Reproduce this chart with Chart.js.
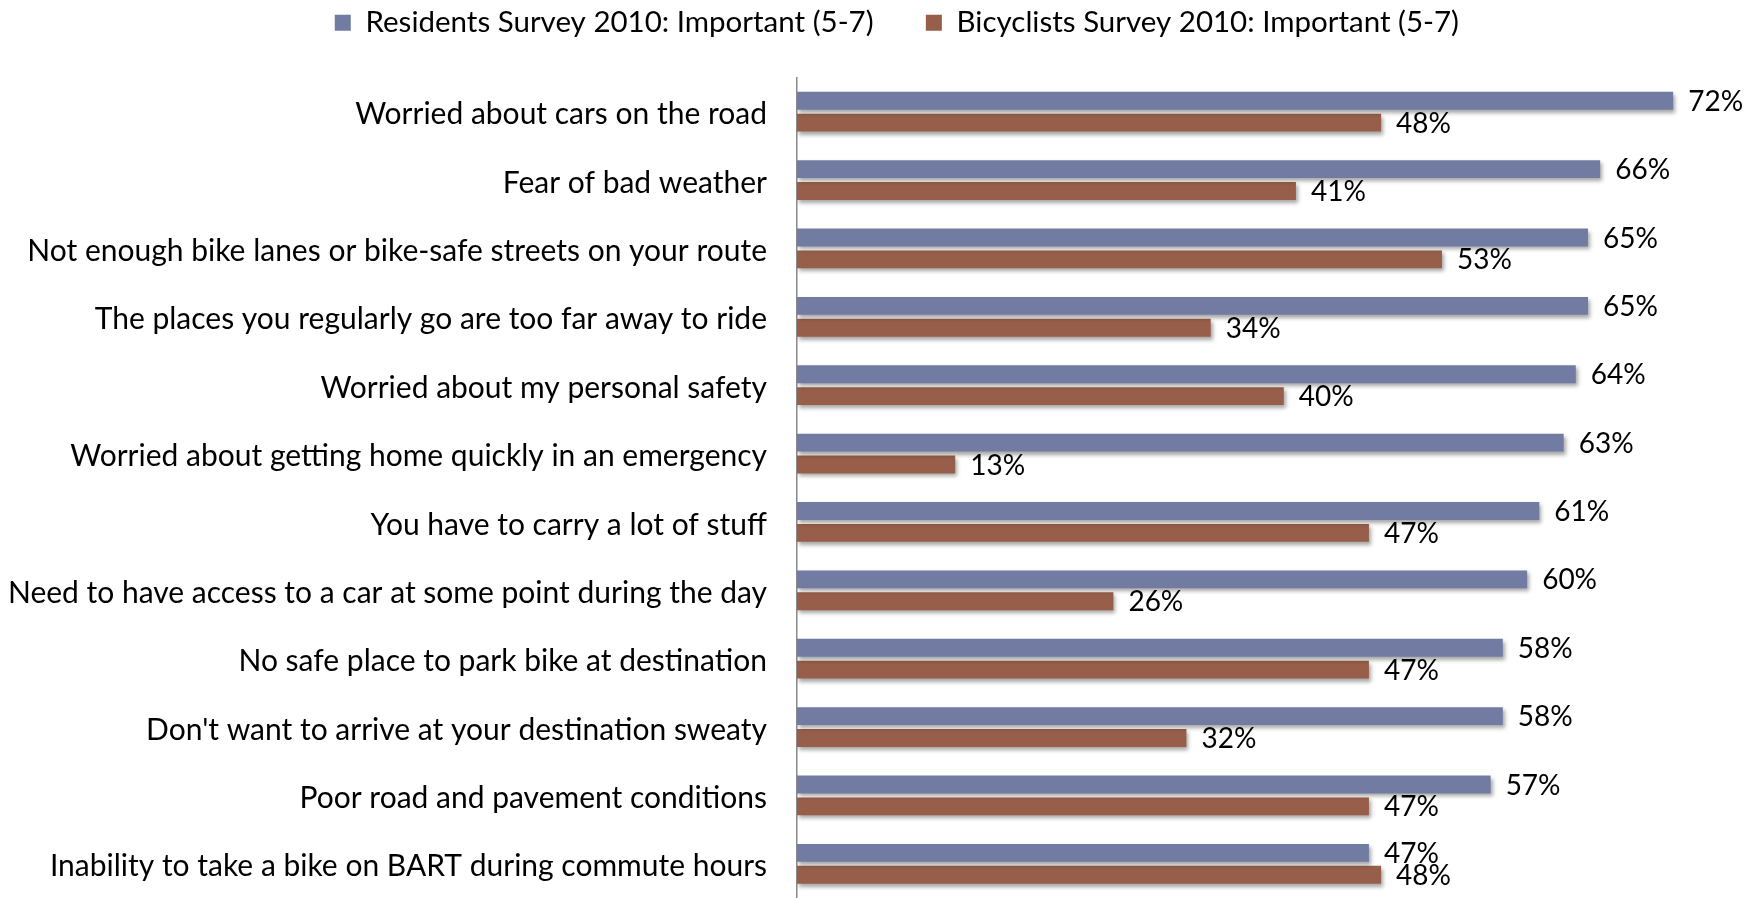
<!DOCTYPE html>
<html>
<head>
<meta charset="utf-8">
<script src="https://cdn.jsdelivr.net/npm/chart.js@4"></script>
<style>
  html, body { margin: 0; padding: 0; background: #ffffff; }
  #wrap { width: 1762px; height: 898px; position: relative; }
</style>
</head>
<body>
<div id="wrap"><canvas id="c"></canvas></div>
<script>
const categories = [
  "Worried about cars on the road",
  "Fear of bad weather",
  "Not enough bike lanes or bike-safe streets on your route",
  "The places you regularly go are too far away to ride",
  "Worried about my personal safety",
  "Worried about getting home quickly in an emergency",
  "You have to carry a lot of stuff",
  "Need to have access to a car at some point during the day",
  "No safe place to park bike at destination",
  "Don't want to arrive at your destination sweaty",
  "Poor road and pavement conditions",
  "Inability to take a bike on BART during commute hours"
];
const residents2010 = [72, 66, 65, 65, 64, 63, 61, 60, 58, 58, 57, 47];
const bicyclists2010 = [48, 41, 53, 34, 40, 13, 47, 26, 47, 32, 47, 48];
const seriesNames = [
  "Residents Survey 2010: Important (5-7)",
  "Bicyclists Survey 2010: Important (5-7)"
];

const FONT = "Lato, 'Open Sans', sans-serif";
const EM = '\u2003', QS = '\u2005';
const legendTrail = [EM + EM, EM.repeat(13) + QS];

const barEffects = {
  id: 'barEffects',
  beforeDatasetsDraw(chart) {
    const c = chart.ctx;
    c.save();
    c.shadowColor = 'rgba(0,0,0,0.35)';
    c.shadowBlur = 4;
    c.shadowOffsetX = 2;
    c.shadowOffsetY = 3;
  },
  afterDatasetsDraw(chart) {
    const c = chart.ctx;
    c.restore();
    c.save();
    c.font = '28px ' + FONT;
    c.fillStyle = '#000000';
    c.textAlign = 'left';
    c.textBaseline = 'middle';
    chart.data.datasets.forEach((ds, di) => {
      const meta = chart.getDatasetMeta(di);
      meta.data.forEach((bar, i) => {
        c.fillText(ds.data[i] + '%', bar.x + 15, bar.y + 1);
      });
    });
    c.restore();
  }
};

new Chart(document.getElementById('c'), {
  type: 'bar',
  data: {
    labels: categories,
    datasets: [
      {
        label: seriesNames[0],
        data: residents2010,
        backgroundColor: '#727ca3',
        categoryPercentage: 0.64,
        barPercentage: 0.818
      },
      {
        label: seriesNames[1],
        data: bicyclists2010,
        backgroundColor: '#975e4a',
        categoryPercentage: 0.64,
        barPercentage: 0.818
      }
    ]
  },
  options: {
    indexAxis: 'y',
    responsive: true,
    maintainAspectRatio: false,
    animation: false,
    layout: { padding: { left: 0, right: 0, top: 0, bottom: -4 } },
    plugins: {
      legend: {
        display: true,
        position: 'top',
        align: 'end',
        labels: {
          color: '#000000',
          font: { family: FONT, size: 29.5 },
          boxWidth: 16,
          boxHeight: 16,
          padding: 8,
          generateLabels(chart) {
            const items = Chart.defaults.plugins.legend.labels.generateLabels(chart);
            items.forEach((it, i) => {
              it.lineWidth = 0;
              it.text = it.text + legendTrail[i];
            });
            return items;
          }
        }
      },
      tooltip: { enabled: false }
    },
    scales: {
      x: {
        position: 'top',
        min: 0,
        max: 79.3,
        display: true,
        ticks: { display: false },
        grid: { display: false, drawTicks: false },
        border: { display: false },
        afterFit(scale) { scale.height = 30; }
      },
      y: {
        position: 'left',
        ticks: {
          color: '#000000',
          font: { family: FONT, size: 30, lineHeight: 0.1 },
          padding: -5.4,
          labelOffset: 3,
          autoSkip: false
        },
        grid: { display: false, drawTicks: true, tickLength: 35.4 },
        border: { display: true, color: '#8a8a8a', width: 1.5 },
        afterFit(scale) { scale.width = 797; }
      }
    }
  },
  plugins: [barEffects]
});
</script>
</body>
</html>
